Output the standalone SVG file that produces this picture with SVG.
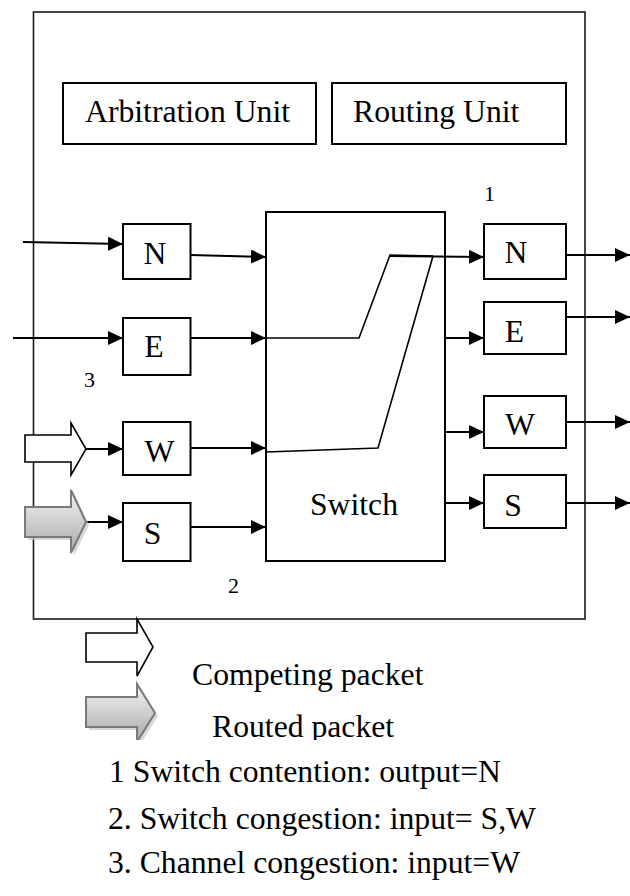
<svg xmlns="http://www.w3.org/2000/svg" width="630" height="896" viewBox="0 0 630 896">
<style>
.box{fill:#fff;stroke:#000;stroke-width:2}
.outer{fill:none;stroke:#1a1a1a;stroke-width:1.6}
.t{font-family:"Liberation Serif","Times New Roman",serif;font-size:31.7px;fill:#000}
.s{font-family:"Liberation Serif","Times New Roman",serif;font-size:22px;fill:#000}
.c{text-anchor:middle}
.ln{fill:none;stroke:#000;stroke-width:2.2}
.thin{fill:none;stroke:#000;stroke-width:1.6}
.open{fill:#fff;stroke:#000;stroke-width:1.6}
.gray{fill:url(#g);stroke:#7a7a7a;stroke-width:2}
.shadow{fill:#c8c8c8;opacity:0.7}
</style>
<defs>
<marker id="a" viewBox="0 0 15 14" refX="15" refY="7" markerWidth="15" markerHeight="14" markerUnits="userSpaceOnUse" orient="auto">
<path d="M0,0 L15,7 L0,14 Z" fill="#000"/>
</marker>
<linearGradient id="g" x1="0" y1="0" x2="0" y2="1">
<stop offset="0" stop-color="#f4f4f4"/>
<stop offset="1" stop-color="#a8a8a8"/>
</linearGradient>
<clipPath id="clipR"><rect x="0" y="0" width="630" height="740"/></clipPath>
<clipPath id="clipL2"><rect x="0" y="790" width="630" height="46"/></clipPath>
</defs>

<g id="router">
<rect class="outer" x="33.5" y="12" width="551.5" height="607"/>
</g>

<g id="arbitration-unit">
<rect class="box" x="63" y="83" width="253" height="61"/>
<text class="t" x="85" y="122">Arbitration Unit</text>
</g>
<g id="routing-unit">
<rect class="box" x="332" y="83" width="234" height="61"/>
<text class="t" x="353" y="122">Routing Unit</text>
</g>

<g id="switch">
<rect class="box" x="266" y="212" width="179" height="349"/>
<text class="t" x="310" y="515">Switch</text>
</g>

<g id="in-N"><rect class="box" x="123" y="224" width="67.5" height="55"/><text class="t c" x="155" y="264">N</text></g>
<g id="in-E"><rect class="box" x="123" y="318" width="67.5" height="57"/><text class="t c" x="154" y="357">E</text></g>
<g id="in-W"><rect class="box" x="123" y="422" width="67.5" height="53"/><text class="t c" x="159.5" y="462">W</text></g>
<g id="in-S"><rect class="box" x="123" y="503" width="67.5" height="58"/><text class="t c" x="152.5" y="544">S</text></g>

<g id="out-N"><rect class="box" x="484" y="224" width="82" height="55"/><text class="t c" x="516" y="263">N</text></g>
<g id="out-E"><rect class="box" x="484" y="302" width="82" height="52"/><text class="t c" x="514.5" y="342">E</text></g>
<g id="out-W"><rect class="box" x="484" y="396" width="82" height="52"/><text class="t c" x="520" y="435">W</text></g>
<g id="out-S"><rect class="box" x="484" y="475" width="82" height="53"/><text class="t c" x="513" y="516">S</text></g>

<g id="connectors">
<line class="ln" x1="23" y1="242" x2="123" y2="244" marker-end="url(#a)"/>
<line class="ln" x1="13" y1="338" x2="123" y2="338" marker-end="url(#a)"/>
<line class="ln" x1="86" y1="449" x2="123" y2="449" marker-end="url(#a)"/>
<line class="ln" x1="86" y1="522" x2="123" y2="522" marker-end="url(#a)"/>

<line class="ln" x1="190.5" y1="255" x2="266" y2="257" marker-end="url(#a)"/>
<line class="ln" x1="190.5" y1="338" x2="266" y2="338" marker-end="url(#a)"/>
<line class="ln" x1="190.5" y1="448" x2="266" y2="448" marker-end="url(#a)"/>
<line class="ln" x1="190.5" y1="527" x2="266" y2="527" marker-end="url(#a)"/>

<polyline class="thin" points="266,338 359,338 390,255 433,256"/>
<line class="ln" x1="390" y1="256" x2="484" y2="257" marker-end="url(#a)"/>
<polyline class="thin" points="266,452 378,448 433,256"/>

<line class="ln" x1="445" y1="338" x2="484" y2="338" marker-end="url(#a)"/>
<line class="ln" x1="445" y1="432" x2="484" y2="432" marker-end="url(#a)"/>
<line class="ln" x1="445" y1="503" x2="484" y2="503" marker-end="url(#a)"/>

<line class="ln" x1="566" y1="255" x2="630" y2="255" marker-end="url(#a)"/>
<line class="ln" x1="566" y1="317" x2="630" y2="317" marker-end="url(#a)"/>
<line class="ln" x1="566" y1="422" x2="630" y2="422" marker-end="url(#a)"/>
<line class="ln" x1="566" y1="503" x2="630" y2="503" marker-end="url(#a)"/>
</g>

<g id="competing-arrow-W">
<path class="open" d="M25,435 H71 V423 L86,449 L71,475 V462 H25 Z"/>
</g>
<g id="routed-arrow-S">
<path class="shadow" d="M28,510 H74 V493 L89,525 L74,556 V540 H28 Z"/>
<path class="gray" d="M25,507 H71 V490 L86,522 L71,553 V537 H25 Z"/>
</g>

<g id="labels">
<text class="s" x="484" y="201">1</text>
<text class="s" x="84" y="387">3</text>
<text class="s" x="228" y="593">2</text>
</g>

<g id="legend">
<path class="open" d="M86,633 H137 V619 L153,647 L137,676 V662 H86 Z"/>
<text class="t" x="192" y="685">Competing packet</text>
<g clip-path="url(#clipR)">
<path class="shadow" d="M89,700 H140 V687 L158,716 L140,745 V730 H89 Z"/>
<path class="gray" d="M86,697 H137 V684 L155,713 L137,742 V727 H86 Z"/>
<text class="t" x="212" y="737">Routed packet</text>
</g>
</g>

<g id="notes">
<text class="t" x="109" y="782">1 Switch contention: output=N</text>
<text class="t" x="108" y="829" clip-path="url(#clipL2)">2. Switch congestion: input= S,W</text>
<text class="t" x="108" y="873">3. Channel congestion: input=W</text>
</g>
</svg>
